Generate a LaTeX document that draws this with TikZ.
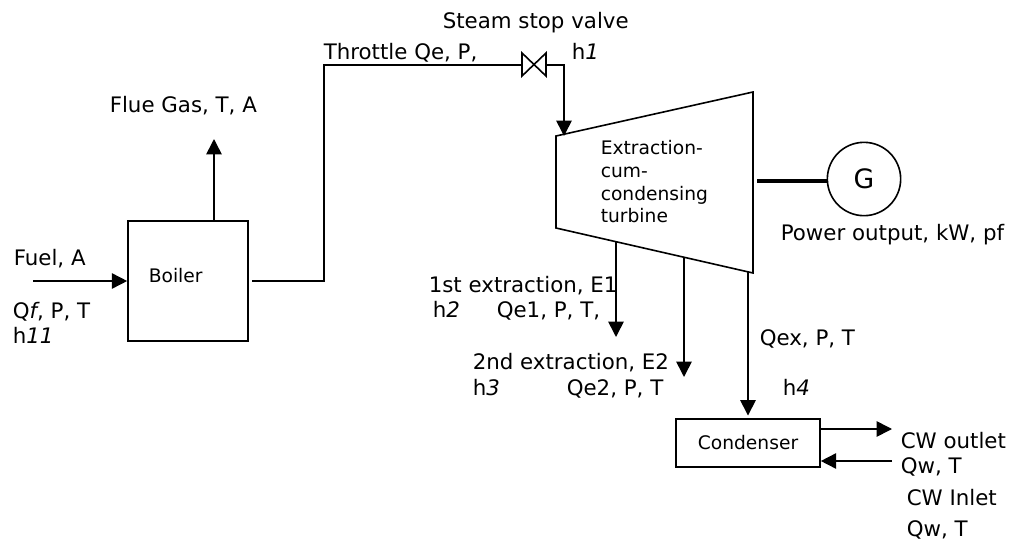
\documentclass[tikz,border=0pt]{standalone}
\usepackage{fontspec}
\setmainfont{DejaVu Sans}
\usetikzlibrary{arrows.meta}
\begin{document}
\begin{tikzpicture}[x=0.75pt, y=-0.75pt, line width=1.2pt, font=\fontsize{16}{19}\selectfont,
  main/.style = {draw, minimum width=90pt, minimum height=90pt, inner sep=0pt},
  lbl/.style = {anchor=base west, inner sep=0pt},
  small/.style = {font=\fontsize{14}{17}\selectfont},
  flow/.style = {-{Triangle[length=11.5pt,width=11.5pt]}}]
\useasboundingbox (0,0) rectangle (1014,543);
% equipment
\node[main] (boiler) at (188,281) {};
\node[small, lbl] (boilertext) at (148,282) {Boiler};
\node[draw, inner sep=0pt, minimum width=108pt, minimum height=36pt, small] (condenser) at (748,443) {Condenser};
\node[draw, circle, inner sep=0pt, minimum size=55pt, font=\fontsize{20}{24}\selectfont] (gen) at (864,179) {G};
\coordinate (t1) at (556,136);
\coordinate (t2) at (753,92);
\coordinate (t3) at (753,273);
\coordinate (t4) at (556,228);
\draw (t1) -- (t2) -- (t3) -- (t4) -- cycle;
\node[small, lbl] (turbinetext) at (600,154) {Extraction-};
\node[small, lbl] (turbinetext2) at (600,177) {cum-};
\node[small, lbl] (turbinetext3) at (600,200) {condensing};
\node[small, lbl] (turbinetext4) at (600,222) {turbine};
% valve
\coordinate (v1) at (522,53);
\coordinate (v2) at (546,76);
\coordinate (v3) at (546,53);
\coordinate (v4) at (522,76);
\draw (v1) -- (v2) -- (v3) -- (v4) -- cycle;
% free ends
\coordinate (fuelin) at (33,281);
\coordinate (fluetop) at (214,139);
\coordinate (boilerout) at (252,281);
\coordinate (bend1) at (324,65);
\coordinate (vin) at (522,65);
\coordinate (vout) at (546,65);
\coordinate (bend2) at (564,65);
\coordinate (tin) at (564,136);
\coordinate (e1a) at (616,241);
\coordinate (e1b) at (616,337);
\coordinate (e2a) at (684,257);
\coordinate (e2b) at (684,377);
\coordinate (exa) at (748,272);
\coordinate (shaft) at (757,181);
\coordinate (cwout) at (892,429);
\coordinate (cwin) at (892,461);
% connectors
\draw[flow] (fuelin) -- (boiler);
\draw[flow] (boiler.north -| fluetop) -- (fluetop);
\draw (boilerout) -| (bend1) -- (vin);
\draw[flow] (vout) -- (bend2) -- (tin);
\draw[flow] (e1a) -- (e1b);
\draw[flow] (e2a) -- (e2b);
\draw[flow, shorten >=2pt] (exa) -- (condenser);
\draw[line width=2.8pt] (shaft) -- (gen.west |- shaft);
\draw[flow] (condenser.east |- cwout) -- (cwout);
\draw[flow] (cwin) -- (condenser.east |- cwin);
% labels
\node[lbl] (fluegas) at (109,112) {Flue Gas, T, A};
\node[lbl] (fuel) at (13,265) {Fuel, A};
\node[lbl] (qf) at (12,318) {Q\textit{f}, P, T};
\node[lbl] (h11) at (12,343) {h\textit{11}};
\node[lbl] (stop) at (442,28) {Steam stop valve};
\node[lbl] (throttle) at (323,59) {Throttle Qe, P,};
\node[lbl] (h1) at (571,59) {h\textit{1}};
\node[lbl] (power) at (780,240) {Power output, kW, pf};
\node[lbl] (e1) at (428,292) {1st extraction, E1};
\node[lbl] (h2) at (432,317) {h\textit{2}};
\node[lbl] (qe1) at (496,317) {Qe1, P, T,};
\node[lbl] (e2) at (472,369) {2nd extraction, E2};
\node[lbl] (h3) at (472,395) {h\textit{3}};
\node[lbl] (qe2) at (566,395) {Qe2, P, T};
\node[lbl] (qex) at (759,345) {Qex, P, T};
\node[lbl] (h4) at (782,395) {h\textit{4}};
\node[lbl] (outlet) at (900,448) {CW outlet};
\node[lbl] (qw1) at (900,473) {Qw, T};
\node[lbl] (inlet) at (906,505) {CW Inlet};
\node[lbl] (qw2) at (906,536) {Qw, T};
\end{tikzpicture}
\end{document}
